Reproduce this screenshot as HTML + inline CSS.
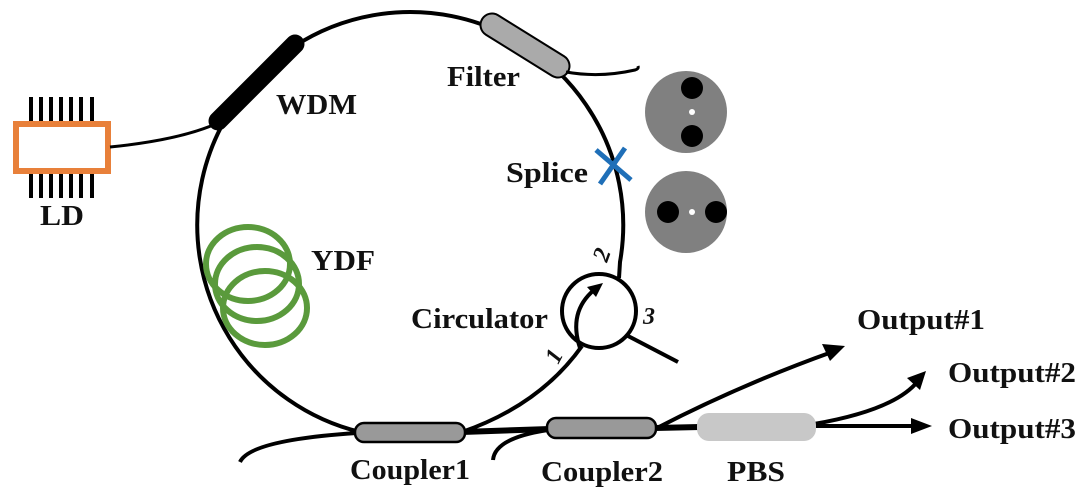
<!DOCTYPE html>
<html><head><meta charset="utf-8"><style>
html,body{margin:0;padding:0;background:#fff;}
svg{display:block;}
text{font-family:"Liberation Serif",serif;font-weight:bold;fill:#111;}
</style></head><body>
<svg width="1080" height="495" viewBox="0 0 1080 495">
<!-- main loop -->
<path d="M360,432 A213,213 0 1 1 620,262 L619,278" fill="none" stroke="#000" stroke-width="4"/>
<!-- port1 -->
<path d="M582,346 Q540,405 462,432" fill="none" stroke="#000" stroke-width="4"/>
<!-- port 3 -->
<line x1="628" y1="336" x2="678" y2="362" stroke="#000" stroke-width="4"/>
<!-- circulator -->
<circle cx="599" cy="311" r="37" fill="#fff" stroke="#000" stroke-width="4"/>
<path d="M580,348 Q568,312 594,290" fill="none" stroke="#000" stroke-width="4"/>
<polygon points="603,283 587,287 596,297" fill="#000"/>
<!-- LD -->
<g fill="#000">
<rect x="29" y="97" width="4" height="24"/><rect x="39" y="97" width="4" height="24"/><rect x="49" y="97" width="4" height="24"/><rect x="59" y="97" width="4" height="24"/><rect x="69" y="97" width="4" height="24"/><rect x="79" y="97" width="4" height="24"/><rect x="90" y="97" width="4" height="24"/>
<rect x="29" y="174" width="4" height="24"/><rect x="39" y="174" width="4" height="24"/><rect x="49" y="174" width="4" height="24"/><rect x="59" y="174" width="4" height="24"/><rect x="69" y="174" width="4" height="24"/><rect x="79" y="174" width="4" height="24"/><rect x="90" y="174" width="4" height="24"/>
</g>
<rect x="16" y="124" width="92" height="47" fill="#fff" stroke="#e8803a" stroke-width="6"/>
<path d="M110,147 Q180,140 218,123" fill="none" stroke="#000" stroke-width="3"/>
<!-- WDM -->
<line x1="218" y1="121" x2="295" y2="44" stroke="#000" stroke-width="19" stroke-linecap="round"/>
<!-- Filter -->
<line x1="492" y1="25" x2="558" y2="66" stroke="#000" stroke-width="25" stroke-linecap="round"/>
<line x1="492" y1="25" x2="558" y2="66" stroke="#aaa" stroke-width="21" stroke-linecap="round"/>
<path d="M566,72 Q600,78 635,70 Q639,69 638,66" fill="none" stroke="#000" stroke-width="3"/>
<!-- YDF -->
<g fill="none" stroke="#5a9a3c" stroke-width="6">
<ellipse cx="248" cy="264" rx="42" ry="37"/>
<ellipse cx="257" cy="284" rx="42" ry="37"/>
<ellipse cx="265" cy="308" rx="42" ry="37"/>
</g>
<!-- disks -->
<circle cx="686" cy="112" r="41" fill="#808080"/>
<circle cx="692" cy="88" r="11" fill="#000"/><circle cx="692" cy="136" r="11" fill="#000"/><circle cx="692" cy="112" r="3" fill="#fff"/>
<circle cx="686" cy="212" r="41" fill="#808080"/>
<circle cx="668" cy="212" r="11" fill="#000"/><circle cx="716" cy="212" r="11" fill="#000"/><circle cx="692" cy="212" r="3" fill="#fff"/>
<!-- splice -->
<g stroke="#1f6fb8" stroke-width="5"><line x1="596" y1="150" x2="631" y2="180"/><line x1="625" y1="148" x2="600" y2="184"/></g>
<!-- bottom fibers -->
<path d="M240,462 Q250,440 357,433" fill="none" stroke="#000" stroke-width="4"/>
<path d="M493,460 Q495,438 548,430" fill="none" stroke="#000" stroke-width="4"/>
<line x1="462" y1="432" x2="550" y2="429" stroke="#000" stroke-width="6"/>
<line x1="655" y1="428" x2="700" y2="427" stroke="#000" stroke-width="6"/>
<path d="M657,428 Q740,385 832,352" fill="none" stroke="#000" stroke-width="4"/>
<polygon points="845,346 822,344 830,361" fill="#000"/>
<path d="M814,424 Q895,410 918,381" fill="none" stroke="#000" stroke-width="4"/>
<polygon points="926,371 907,378 920,390" fill="#000"/>
<line x1="814" y1="426" x2="914" y2="426" stroke="#000" stroke-width="4"/>
<polygon points="932,426 911,418 911,434" fill="#000"/>
<rect x="355" y="423" width="110" height="19" rx="9" fill="#999" stroke="#000" stroke-width="2.5"/>
<rect x="547" y="418" width="109" height="20" rx="9" fill="#999" stroke="#000" stroke-width="2.5"/>
<rect x="697" y="413" width="119" height="28" rx="12" fill="#c8c8c8"/>
<!-- labels -->
<g font-size="29">
<text x="447" y="86" textLength="73" lengthAdjust="spacingAndGlyphs">Filter</text>
<text x="276" y="114" textLength="81" lengthAdjust="spacingAndGlyphs">WDM</text>
<text x="506" y="182" textLength="82" lengthAdjust="spacingAndGlyphs">Splice</text>
<text x="311" y="270" textLength="64" lengthAdjust="spacingAndGlyphs">YDF</text>
<text x="40" y="225" textLength="44" lengthAdjust="spacingAndGlyphs">LD</text>
<text x="411" y="328" textLength="137" lengthAdjust="spacingAndGlyphs">Circulator</text>
<text x="857" y="329" textLength="128" lengthAdjust="spacingAndGlyphs">Output#1</text>
<text x="948" y="382" textLength="128" lengthAdjust="spacingAndGlyphs">Output#2</text>
<text x="948" y="438" textLength="128" lengthAdjust="spacingAndGlyphs">Output#3</text>
<text x="350" y="479" textLength="120" lengthAdjust="spacingAndGlyphs">Coupler1</text>
<text x="541" y="481" textLength="122" lengthAdjust="spacingAndGlyphs">Coupler2</text>
<text x="727" y="481" textLength="58" lengthAdjust="spacingAndGlyphs">PBS</text>
</g>
<text x="0" y="0" font-size="24" font-style="italic" transform="translate(607,263) rotate(-70)">2</text>
<text x="643" y="324" font-size="24" font-style="italic">3</text>
<text x="0" y="0" font-size="24" font-style="italic" transform="translate(558,365) rotate(-62)">1</text>
</svg>
</body></html>
